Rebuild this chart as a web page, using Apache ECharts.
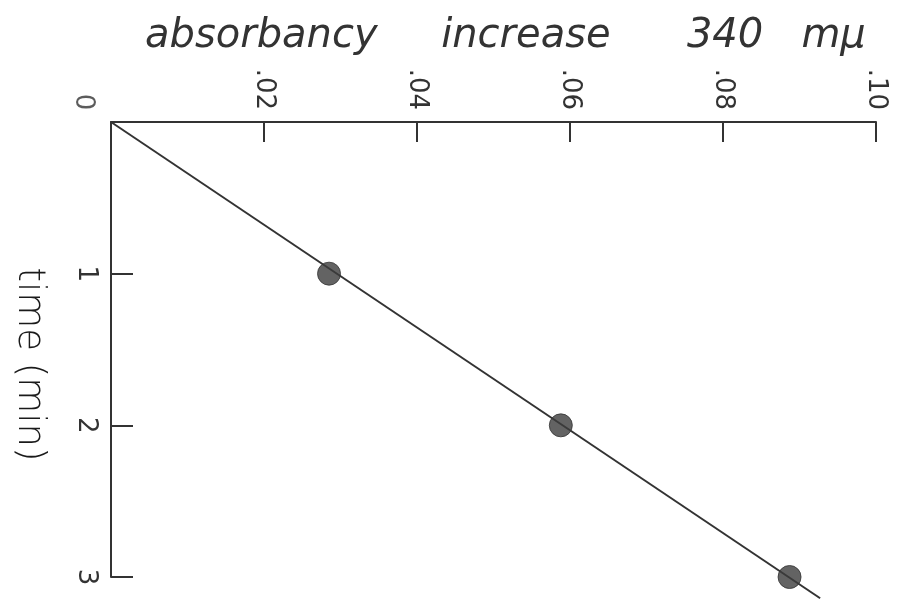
<!DOCTYPE html>
<html>
<head>
<meta charset="utf-8">
<script src="https://cdn.jsdelivr.net/npm/echarts@6/dist/echarts.min.js"></script>
<style>
  html, body { margin: 0; padding: 0; background: #fff; }
  #chart { width: 899px; height: 604px; }
</style>
</head>
<body>
<div id="chart"></div>
<script>
// Absorbancy increase at 340 mμ measured at 1-minute intervals
const timeMin = [1, 2, 3];
const absorbancy = [0.0285, 0.0588, 0.0887];

// Fitted straight line through the origin
const fitTime = [0, 3.14];
const fitAbsorbancy = [0, 0.0927];

// Axis tick labels
const absTickValues = [0, 0.02, 0.04, 0.06, 0.08, 0.10];
const absTickLabels = ['', '.02', '.04', '.06', '.08', '.10'];
const timeTickValues = [0, 1, 2, 3];
const timeTickLabels = ['', '1', '2', '3'];
const originLabel = '0';

const ink = '#333';
const font = 'DejaVu Sans';

function labelFor(values, labels) {
  return function (v) {
    for (let i = 0; i < values.length; i++) {
      if (Math.abs(values[i] - v) < 1e-9) return labels[i];
    }
    return '';
  };
}

const tickText = {
  fontFamily: font,
  fontWeight: 'normal',
  fontSize: 26,
  color: ink
};

const chart = echarts.init(document.getElementById('chart'), null, { renderer: 'canvas' });

chart.setOption({
  backgroundColor: '#fff',
  animation: false,
  title: {
    text: 'absorbancy     increase      340   mμ',
    left: 140,
    top: 12,
    textStyle: {
      fontFamily: font,
      fontStyle: 'italic',
      fontWeight: 'normal',
      fontSize: 40,
      color: ink
    }
  },
  grid: {
    left: 111, top: 122, right: 23, bottom: 27,
    containLabel: false,
    outerBoundsMode: 'none'
  },
  xAxis: {
    type: 'value',
    position: 'top',
    min: 0,
    max: 0.1,
    interval: 0.02,
    splitLine: { show: false },
    axisLine: { lineStyle: { color: ink, width: 2 } },
    axisTick: { inside: true, length: 20, lineStyle: { color: ink, width: 2 } },
    axisLabel: Object.assign({
      rotate: -90,
      margin: 12,
      formatter: labelFor(absTickValues, absTickLabels)
    }, tickText)
  },
  yAxis: {
    type: 'value',
    inverse: true,
    min: 0,
    max: 3,
    interval: 1,
    name: 'time (min)',
    nameLocation: 'middle',
    nameRotate: -90,
    nameGap: 64,
    nameTextStyle: {
      fontFamily: font,
      fontWeight: 200,
      fontSize: 37,
      color: '#1a1a1a',
      padding: [0, 0, 0, 30]
    },
    splitLine: { show: false },
    axisLine: { lineStyle: { color: ink, width: 2 } },
    axisTick: { inside: true, length: 22, lineStyle: { color: ink, width: 2 } },
    axisLabel: Object.assign({
      rotate: -90,
      margin: 12,
      formatter: labelFor(timeTickValues, timeTickLabels)
    }, tickText)
  },
  series: [
    {
      type: 'line',
      clip: false,
      silent: true,
      symbol: 'none',
      lineStyle: { color: ink, width: 2 },
      data: fitTime.map((t, i) => [fitAbsorbancy[i], t]),
      z: 2
    },
    {
      type: 'scatter',
      symbol: 'circle',
      symbolSize: 23,
      itemStyle: { color: '#3c3c3c', borderColor: '#333', borderWidth: 1 },
      data: timeMin.map((t, i) => [absorbancy[i], t]),
      z: 3
    },
    {
      // shared origin label, set off up and to the left of the corner
      // (offset is applied in the label's rotated frame)
      type: 'scatter',
      symbolSize: 0,
      silent: true,
      data: [[0, 0]],
      label: Object.assign({
        show: true,
        formatter: originLabel,
        position: 'inside',
        rotate: -90,
        offset: [-20, 28]
      }, tickText)
    }
  ]
});
</script>
</body>
</html>
